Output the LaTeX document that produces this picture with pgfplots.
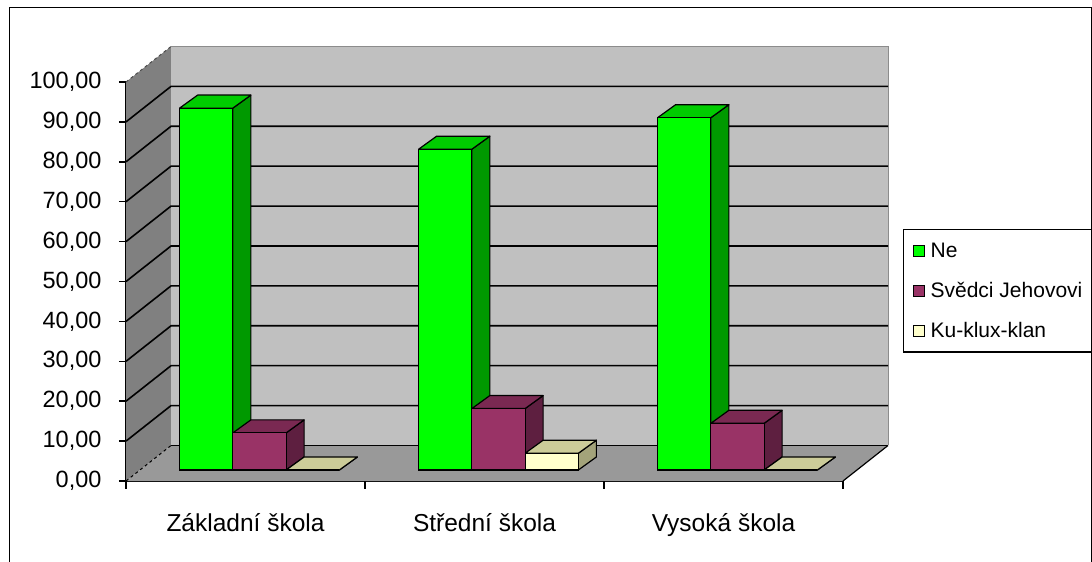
\documentclass[border=0pt]{standalone}
\usepackage{pgfplots}
\pgfplotsset{compat=1.18}
\usepackage{pgfplotstable}
\usepackage{fontspec}
\setmainfont{Liberation Sans}

\definecolor{gfront}{HTML}{00FF00}
\definecolor{gtop}{HTML}{00CC00}
\definecolor{gside}{HTML}{009900}
\definecolor{pfront}{HTML}{993366}
\definecolor{ptop}{HTML}{7A2952}
\definecolor{pside}{HTML}{5E1F40}
\definecolor{cfront}{HTML}{FFFFCC}
\definecolor{ctop}{HTML}{CCCC99}
\definecolor{cside}{HTML}{A3A37A}
\definecolor{backwall}{HTML}{C0C0C0}
\definecolor{leftwall}{HTML}{808080}
\definecolor{floorc}{HTML}{999999}

\pgfplotstableread{
x ne svedci kkk
0 90.7 9.3 0
1 80.4 15.4 4.2
2 88.3 11.7 0
}\datatable

% depth of the whole chart (axis units) and of the bars
\newcommand\Dx{0.1883}
\newcommand\Dy{8.9}
\newcommand\DxR{3.1883}
\newcommand\Dytop{108.9}
\newcommand\ddx{0.0753}
\newcommand\ddy{3.26}
\newcommand\bw{0.2228}

% side and top faces of one bar: #1 left x of front face, #2 value, #3 top colour, #4 side colour
\newcommand\boxfaces[4]{%
  \pgfmathsetmacro\xl{#1}%
  \pgfmathsetmacro\xr{#1+\bw}%
  \pgfmathsetmacro\xlb{\xl+\ddx}%
  \pgfmathsetmacro\xrb{\xr+\ddx}%
  \pgfmathsetmacro\yt{#2}%
  \pgfmathsetmacro\ytb{#2+\ddy}%
  \edef\doit{%
    \noexpand\filldraw[fill=#4,draw=black,line width=1.2pt,line join=round] (axis cs:\xr,0) -- (axis cs:\xr,\yt) -- (axis cs:\xrb,\ytb) -- (axis cs:\xrb,\ddy) -- cycle;
    \noexpand\filldraw[fill=#3,draw=black,line width=1.2pt,line join=round] (axis cs:\xl,\yt) -- (axis cs:\xr,\yt) -- (axis cs:\xrb,\ytb) -- (axis cs:\xlb,\ytb) -- cycle;
  }%
  \doit
}

% grid line on left wall and back wall
\newcommand\wallgrid[1]{%
  \pgfmathsetmacro\yb{#1+\Dy}%
  \edef\doit{%
    \noexpand\draw[black,line width=1.6pt] (axis cs:0,#1) -- (axis cs:\Dx,\yb) -- (axis cs:\DxR,\yb);
  }%
  \doit
}

\begin{document}
\begin{tikzpicture}
% walls, floor, ticks
\begin{axis}[
  at={(126pt,81pt)}, anchor=south west,
  scale only axis, width=717pt, height=399pt,
  xmin=0, xmax=3, ymin=0, ymax=100,
  clip=false,
  axis lines=left, axis line style={-, line width=1.5pt, black},
  ytick={0,10,20,30,40,50,60,70,80,90,100},
  xtick={0.5,1.5,2.5},
  xticklabels={Základní škola, Střední škola, Vysoká škola},
  xtick style={draw=none},
  ytick style={line width=1.5pt, black},
  tick align=outside, major tick length=7pt,
  xticklabel style={yshift=-22pt, font=\fontsize{24.5}{28}\selectfont},
  yticklabel style={xshift=-14pt, font=\fontsize{23.5}{27}\selectfont, /pgf/number format/.cd, fixed, fixed zerofill, precision=2, use comma},
  /pgf/number format/assume math mode=true,
]
\fill[leftwall] (axis cs:0,0) -- (axis cs:\Dx,\Dy) -- (axis cs:\Dx,\Dytop) -- (axis cs:0,100) -- cycle;
\fill[backwall] (axis cs:\Dx,\Dy) rectangle (axis cs:\DxR,\Dytop);
\draw[black!45,line width=0.8pt] (axis cs:\Dx,\Dytop) -- (axis cs:\DxR,\Dytop) -- (axis cs:\DxR,\Dy);
\fill[floorc] (axis cs:0,0) -- (axis cs:3,0) -- (axis cs:\DxR,\Dy) -- (axis cs:\Dx,\Dy) -- cycle;
\pgfplotsinvokeforeach{10,20,30,40,50,60,70,80,90}{\wallgrid{#1}}
\draw[black,line width=1.2pt] (axis cs:\Dx,\Dy) -- (axis cs:\DxR,\Dy);
\draw[black,line width=1.2pt] (axis cs:3,0) -- (axis cs:\DxR,\Dy);
\draw[black,line width=1pt,dashed] (axis cs:0,0) -- (axis cs:\Dx,\Dy);
\draw[black!70,line width=1pt,dashed] (axis cs:0,100) -- (axis cs:\Dx,\Dytop);
\pgfplotsinvokeforeach{0,1,2,3}{\draw[black,line width=1.5pt] (axis cs:#1,0) -- ++(0pt,-8pt);}
\end{axis}
% the bars
\begin{axis}[
  at={(140pt,92pt)}, anchor=south west,
  scale only axis, width=717pt, height=399pt,
  xmin=0, xmax=3, ymin=0, ymax=100,
  hide axis, clip=false,
  ybar, bar width=0.2228,
  legend style={at={(1.0642,0.604)}, anchor=north west, draw=black, line width=1.2pt,
    font=\fontsize{21}{25}\selectfont, row sep=19.5pt, inner xsep=9pt, inner ysep=11pt},
  legend cell align=left,
  legend image code/.code={\draw[#1,draw=black,line width=0.8pt] (0pt,-5.5pt) rectangle (11pt,5.5pt); \path (15pt,0pt);},
]
\pgfplotsinvokeforeach{0,1,2}{%
  \pgfplotstablegetelem{#1}{ne}\of\datatable \let\vne\pgfplotsretval
  \pgfplotstablegetelem{#1}{svedci}\of\datatable \let\vsv\pgfplotsretval
  \pgfplotstablegetelem{#1}{kkk}\of\datatable \let\vkk\pgfplotsretval
  \boxfaces{#1+0.5-1.5*\bw}{\vne}{gtop}{gside}
  \boxfaces{#1+0.5-0.5*\bw}{\vsv}{ptop}{pside}
  \boxfaces{#1+0.5+0.5*\bw}{\vkk}{ctop}{cside}
}
\addplot[fill=gfront, draw=black, line width=1.2pt, bar shift=-0.2228] table[x expr=\thisrow{x}+0.5, y=ne] {\datatable};
\addplot[fill=pfront, draw=black, line width=1.2pt, bar shift=0] table[x expr=\thisrow{x}+0.5, y=svedci] {\datatable};
\addplot[fill=cfront, draw=black, line width=1.2pt, bar shift=0.2228] table[x expr=\thisrow{x}+0.5, y=kkk] {\datatable};
\legend{Ne, Svědci Jehovovi, Ku-klux-klan}
\end{axis}
\draw[black,line width=1pt] (9pt,0pt) -- (9pt,554pt) -- (1091.5pt,554pt) -- (1091.5pt,0pt);
\pgfresetboundingbox
\useasboundingbox (0pt,0pt) rectangle (1092pt,562pt);
\end{tikzpicture}
\end{document}
